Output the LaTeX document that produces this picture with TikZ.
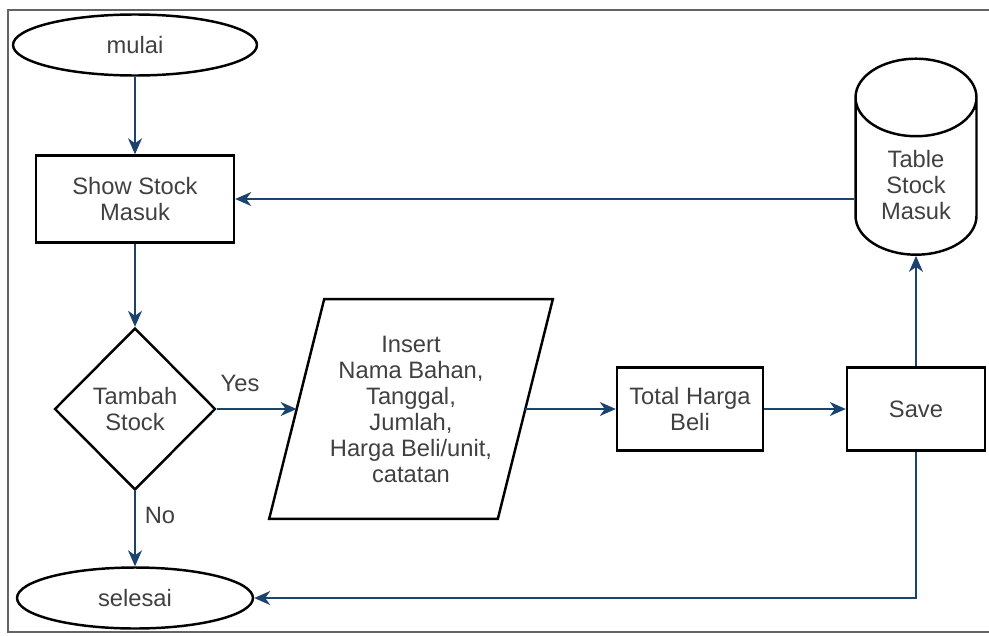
\documentclass[tikz,border=0pt]{standalone}
\usepackage{fontspec}
\setmainfont{Liberation Sans}
\usetikzlibrary{arrows.meta,shapes.geometric,positioning}
\definecolor{flowblue}{RGB}{28,66,110}
\definecolor{txtgray}{RGB}{64,64,64}
\definecolor{framegray}{RGB}{100,100,100}

\begin{document}
\begin{tikzpicture}[x=0.02cm,y=-0.02cm,
  every node/.style={font=\fontsize{13.5}{14.8}\selectfont,text=txtgray,align=center},
  term/.style={ellipse,draw,line width=1.4pt,minimum width=4.88cm,minimum height=1.22cm},
  proc/.style={rectangle,draw,line width=1.4pt},
  decide/.style={diamond,draw,line width=1.4pt,minimum width=3.22cm,minimum height=3.24cm,inner sep=1pt},
  io/.style={rectangle,minimum width=4.56cm,minimum height=4.38cm,inner sep=0pt},
  store/.style={cylinder,shape border rotate=90,aspect=0.95,draw,line width=1.4pt,
    minimum width=2.42cm,minimum height=3.92cm},
  flow/.style={draw=flowblue,line width=0.9pt,-{Stealth[length=3.2mm,width=2.8mm,inset=1mm]}}]
  \useasboundingbox (0,0) rectangle (989,635);
  \draw[framegray,line width=1.2pt] (989,10) -- (8,10) -- (8,632) -- (989,632);

  \node[term] (mulai) at (135,45) {mulai};
  \node[proc,minimum width=3.96cm,minimum height=1.74cm] (show) at (135,199) {Show Stock\\Masuk};
  \node[decide] (tambah) at (135,409) {Tambah\\Stock};
  \node[term,minimum width=4.72cm] (selesai) at (135,598) {selesai};
  \node[io] (insert) at (411,409) {Insert\\Nama Bahan,\\Tanggal,\\Jumlah,\\Harga Beli/unit,\\catatan};
  \draw[line width=1.4pt] ([xshift=0.55cm]insert.north west) -- ([xshift=0.55cm]insert.north east)
    -- ([xshift=-0.55cm]insert.south east) -- ([xshift=-0.55cm]insert.south west) -- cycle;
  \node[proc,minimum width=2.92cm,minimum height=1.66cm] (total) at (690,409) {Total Harga\\Beli};
  \node[proc,minimum width=2.76cm,minimum height=1.66cm] (save) at (916,409) {Save};
  \node[store] (table) at (916,185) {Table\\Stock\\Masuk};
  \node (yes) at (240,383) {Yes};
  \node (no) at (160,515) {No};

  \draw[flow] (mulai) -- (show);
  \draw[flow] (show) -- (tambah);
  \draw[flow] (tambah) -- (insert);
  \draw[flow] (tambah) -- (selesai);
  \draw[flow] (insert) -- (total);
  \draw[flow] (total) -- (save);
  \draw[flow] (save) -- (table);
  \draw[flow] (table.west |- show.east) -- (show.east);
  \draw[flow] (save.south) |- (selesai.east);
\end{tikzpicture}
\end{document}
